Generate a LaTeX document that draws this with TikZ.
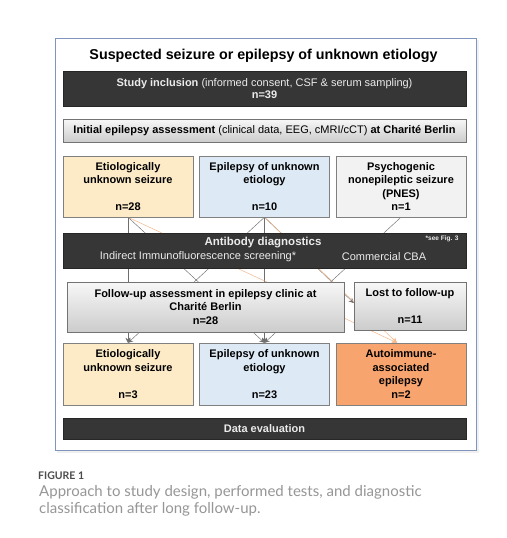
\documentclass[tikz,border=0pt]{standalone}
\usepackage{fontspec}
\setmainfont{Liberation Sans}
\newfontfamily\captionfont{Lato}
\usetikzlibrary{arrows.meta,calc}
\definecolor{darkBox}{RGB}{54,54,54}
\definecolor{seizureYellow}{RGB}{253,235,200}
\definecolor{etiologyBlue}{RGB}{221,234,246}
\definecolor{pnesGray}{RGB}{242,242,242}
\definecolor{autoOrange}{RGB}{247,164,110}
\definecolor{frameBlue}{RGB}{128,148,189}
\definecolor{edgeGray}{RGB}{110,110,110}
\definecolor{edgeOrange}{RGB}{245,185,140}
\definecolor{captionGray}{RGB}{150,150,150}
\pgfdeclarelayer{frame}
\pgfdeclarelayer{edges}
\pgfsetlayers{frame,edges,main}

\begin{document}
\begin{tikzpicture}[x=1pt, y=-1pt]
    % Styles
    \tikzstyle{darkbox} = [rectangle, draw=black!85, fill=darkBox, text=white!92!black, minimum width=403pt, inner sep=0pt, align=center, font=\fontsize{11}{12}\selectfont]
    \tikzstyle{greybox} = [rectangle, draw=black!55, top color=white!97!black, bottom color=black!20, inner sep=0pt, align=center, font=\fontsize{11}{13.5}\selectfont\bfseries]
    \tikzstyle{catbox} = [rectangle, draw=black!50, minimum width=130pt, inner sep=0pt, align=center, font=\fontsize{11}{13.5}\selectfont\bfseries]
    \tikzstyle{abtext} = [text=white!92!black, inner sep=0pt, font=\fontsize{11}{12}\selectfont]
    \tikzstyle{flow} = [->, >={Stealth[length=5pt, width=5pt]}, edgeGray, line width=0.45pt]
    \tikzstyle{autoflow} = [->, >={Stealth[length=5pt, width=5pt]}, edgeOrange, line width=0.5pt]

    \useasboundingbox (0,0) rectangle (506,538);

    % Frame
    \begin{pgfonlayer}{frame}
        \fill[white] (0,0) rectangle (506,538);
        \fill[black!6] (57,40) rectangle (479,453);
        \draw[frameBlue, fill=white, line width=1pt] (55,38) rectangle (476,450);
    \end{pgfonlayer}

    % Nodes
    \node[font=\fontsize{14.3}{16}\selectfont\bfseries] (title) at (263.5,56) {Suspected seizure or epilepsy of unknown etiology};
    \node[darkbox, minimum height=35pt] (incl) at (264.5,88.5) {\textbf{Study inclusion} (informed consent, CSF \& serum sampling)\\\textbf{n=39}};
    \node[greybox, minimum width=403pt, minimum height=23pt, font=\fontsize{11}{12}\selectfont] (init) at (264.5,130.5) {\textbf{Initial epilepsy assessment} (clinical data, EEG, cMRI/cCT) \textbf{at Charité Berlin}};

    \node[catbox, fill=seizureYellow, minimum height=61pt] (eus1) at (128,186.5) {Etiologically\\unknown seizure\\~\\n=28};
    \node[catbox, fill=etiologyBlue, minimum height=61pt] (eue1) at (264.5,186.5) {Epilepsy of unknown\\etiology\\~\\n=10};
    \node[catbox, fill=pnesGray, minimum height=61pt] (pnes1) at (401,186.5) {Psychogenic\\nonepileptic seizure\\(PNES)\\n=1};

    \node[darkbox, minimum height=35pt] (ab) at (264.5,250.5) {};
    \node[abtext, font=\fontsize{11.5}{12}\selectfont\bfseries] (abtitle) at (263,243) {Antibody diagnostics};
    \node[abtext] (ifs) at (198,257) {Indirect Immunofluorescence screening*};
    \node[abtext] (cba) at (384,257) {Commercial CBA};
    \node[abtext, font=\fontsize{6.5}{7}\selectfont\bfseries] (seefig) at (442,239) {*see Fig. 3};

    \node[greybox, minimum width=277pt, minimum height=50pt] (fu) at (205.5,307) {Follow-up assessment in epilepsy clinic at\\Charité Berlin\\n=28};
    \node[greybox, minimum width=112pt, minimum height=48pt] (lost) at (410,306) {Lost to follow-up\\~\\n=11};

    \node[catbox, fill=seizureYellow, minimum height=62pt] (eus3) at (128,374) {Etiologically\\unknown seizure\\~\\n=3};
    \node[catbox, fill=etiologyBlue, minimum height=62pt] (eue3) at (264.5,374) {Epilepsy of unknown\\etiology\\~\\n=23};
    \node[catbox, fill=autoOrange, minimum height=62pt] (aie) at (401,374) {Autoimmune-\\associated\\epilepsy\\n=2};

    \node[darkbox, minimum height=21pt, font=\fontsize{11}{12}\selectfont\bfseries] (de) at (264.5,428.5) {Data evaluation};

    % Caption
    \node[anchor=west, inner sep=0pt, text=black!70, font=\captionfont\fontsize{10.5}{12}\selectfont\bfseries] (figlabel) at (38,476) {FIGURE 1};
    \node[anchor=north west, inner sep=0pt, align=left, text=captionGray, font=\captionfont\fontsize{15}{17}\selectfont] (caption) at (39,485) {Approach to study design, performed tests, and diagnostic\\classification after long follow-up.};

    % Arrows
    \begin{pgfonlayer}{edges}
        \draw[flow] (eus1.south) -- (eus3.north);
        \draw[flow] (eus1.south) -- (eue3.north);
        \draw[flow] (eue1.south) -- (eus3.north);
        \draw[flow] (eue1.south) -- (eue3.north);
        \draw[flow] (eue1.south) -- ($(lost.west)+(0,-3)$);
        \draw[flow] (pnes1.south) -- (eue3.north);
        \draw[autoflow] (eus1.south) -- ($(aie.north)+(-4,0)$);
        \draw[autoflow] (eue1.south) -- ($(aie.north)+(-4,0)$);
    \end{pgfonlayer}
\end{tikzpicture}
\end{document}
